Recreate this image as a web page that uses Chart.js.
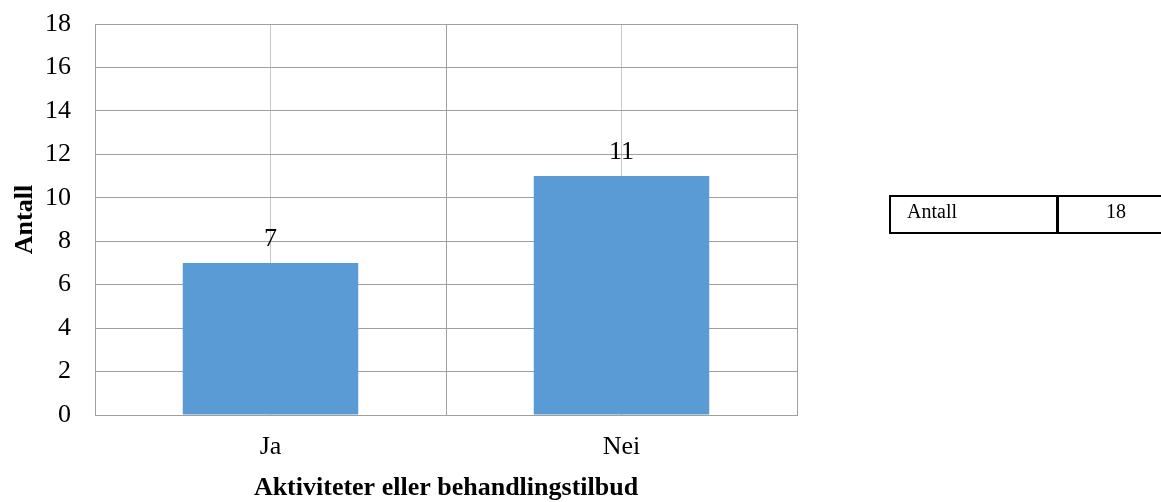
<!DOCTYPE html>
<html lang="no">
<head>
<meta charset="utf-8">
<title>Aktiviteter eller behandlingstilbud</title>
<script src="https://cdn.jsdelivr.net/npm/chart.js@4/dist/chart.umd.min.js"></script>
<style>
  html, body { margin: 0; padding: 0; background: #ffffff; overflow: hidden; }
  #wrap { position: relative; width: 1161px; height: 502px; overflow: hidden; }
  #chart { position: absolute; left: 0; top: 0; }
  .cell {
    position: absolute; box-sizing: border-box; height: 39px; top: 195px;
    border: 2px solid #000;
    font-family: "Liberation Serif", "Times New Roman", serif;
    font-size: 20px; line-height: 28px; color: #000; white-space: nowrap;
  }
  .cell.name { left: 889px; width: 170px; padding-left: 16px; text-align: left; }
  .cell.val { left: 1056px; width: 118px; text-align: center; border-right: none; }
</style>
</head>
<body>
<div id="wrap">
  <canvas id="chart" width="1161" height="502"></canvas>
  <div id="summary"></div>
</div>
<script>
// Answers and counts
const categories = ['Ja', 'Nei'];
const counts = [7, 11];

// Y axis range
const yMin = 0;
const yMax = 18;
const yStep = 2;

// Summary box beside the chart
const summaryLabels = ['Antall'];
const summaryValues = [18];

const axisTitle = 'Aktiviteter eller behandlingstilbud';
const valueTitle = 'Antall';

const serif = '"Liberation Serif", "Times New Roman", serif';

// Fill the summary box
const summary = document.getElementById('summary');
summaryLabels.forEach((lab, i) => {
  const a = document.createElement('div');
  a.className = 'cell name';
  a.textContent = lab;
  const b = document.createElement('div');
  b.className = 'cell val';
  b.textContent = String(summaryValues[i]);
  summary.appendChild(a);
  summary.appendChild(b);
});

// Writes each bar's value just above it
const valueLabels = {
  id: 'valueLabels',
  afterDatasetsDraw(chart) {
    const ctx = chart.ctx;
    ctx.save();
    ctx.font = '26px ' + serif;
    ctx.fillStyle = '#000000';
    ctx.textAlign = 'center';
    ctx.textBaseline = 'alphabetic';
    chart.data.datasets.forEach((ds, di) => {
      const meta = chart.getDatasetMeta(di);
      meta.data.forEach((bar, i) => {
        ctx.fillText(String(ds.data[i]), bar.x, bar.y - 17);
      });
    });
    ctx.restore();
  }
};

const gridDark = '#a0a0a0';
const gridLight = '#c8c8c8';

new Chart(document.getElementById('chart'), {
  type: 'bar',
  data: {
    labels: categories,
    datasets: [{
      label: valueTitle,
      data: counts,
      backgroundColor: '#5b9bd5',
      borderWidth: 0,
      barPercentage: 1,
      categoryPercentage: 0.5,
      xAxisID: 'x',
      yAxisID: 'y'
    }]
  },
  options: {
    responsive: false,
    animation: false,
    layout: { padding: { left: 0, right: 364, top: 24, bottom: -2 } },
    plugins: {
      legend: { display: false },
      tooltip: { enabled: false }
    },
    scales: {
      x: {
        type: 'category',
        position: 'bottom',
        offset: true,
        grid: { offset: true, color: gridDark, lineWidth: 1, drawTicks: false },
        border: { display: true, color: gridDark, width: 1 },
        ticks: {
          color: '#000000',
          font: { family: serif, size: 26 },
          padding: 17,
          maxRotation: 0
        },
        title: {
          display: true,
          text: axisTitle,
          color: '#000000',
          font: { family: serif, size: 26, weight: 'bold' },
          padding: { top: 4, bottom: 0 }
        },
        afterFit(scale) { scale.height = 89; }
      },
      x2: {
        type: 'category',
        position: 'bottom',
        offset: true,
        grid: { offset: false, color: gridLight, lineWidth: 1, drawTicks: false },
        border: { display: false },
        ticks: { display: false },
        afterFit(scale) { scale.height = 0; }
      },
      y: {
        type: 'linear',
        position: 'left',
        min: yMin,
        max: yMax,
        ticks: {
          stepSize: yStep,
          color: '#000000',
          font: { family: serif, size: 26 },
          padding: 24
        },
        grid: { color: gridDark, lineWidth: 1, drawTicks: false },
        border: { display: true, color: gridDark, width: 1 },
        title: {
          display: true,
          text: valueTitle,
          color: '#000000',
          font: { family: serif, size: 26, weight: 'bold' },
          padding: { top: 10, bottom: 0 }
        },
        afterFit(scale) {
          scale.width = 95;
          scale.paddingTop = 12;
          scale.paddingBottom = 12;
        }
      }
    }
  },
  plugins: [valueLabels]
});
</script>
</body>
</html>
